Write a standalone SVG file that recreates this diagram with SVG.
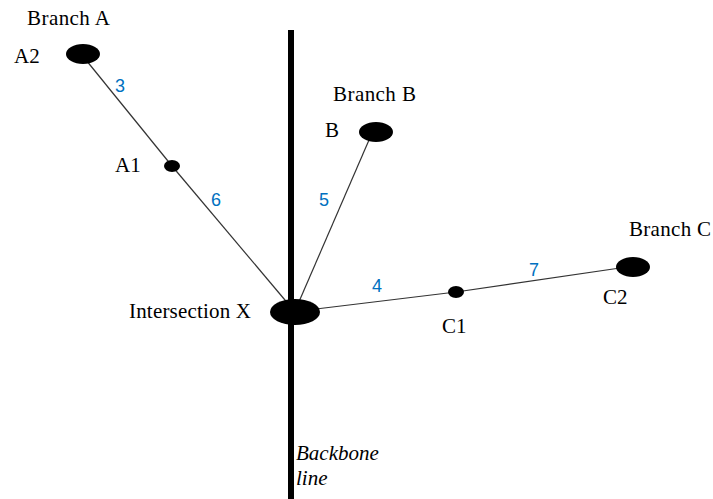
<svg xmlns="http://www.w3.org/2000/svg" width="713" height="499" viewBox="0 0 713 499">
<style>
.lbl{font-family:"Liberation Serif","Times New Roman",serif;font-size:21px;fill:#000}
.num{font-family:"Liberation Sans",Arial,sans-serif;font-size:18px;fill:#0070C0}
.edge{stroke:#333;stroke-width:1.2;fill:none}
.node{fill:#000}
</style>
<rect width="713" height="499" fill="#fff"/>
<g id="backbone">
<line x1="291" y1="30" x2="291" y2="499" stroke="#000" stroke-width="6"/>
<text class="lbl" x="296" y="460" font-style="italic">Backbone</text>
<text class="lbl" x="296" y="485" font-style="italic">line</text>
</g>
<g id="connectors">
<line class="edge" x1="86" y1="60" x2="172" y2="166"/>
<line class="edge" x1="172" y1="166" x2="290" y2="306"/>
<line class="edge" x1="369" y1="140" x2="298" y2="304"/>
<line class="edge" x1="316" y1="309" x2="456" y2="292"/>
<line class="edge" x1="456" y1="292" x2="620" y2="268"/>
<text class="num" x="115" y="92">3</text>
<text class="num" x="211" y="206">6</text>
<text class="num" x="319" y="206">5</text>
<text class="num" x="372" y="292">4</text>
<text class="num" x="529" y="276">7</text>
</g>
<g id="nodeA2">
<ellipse class="node" cx="83" cy="54" rx="17" ry="10"/>
<text class="lbl" x="14" y="63">A2</text>
<text class="lbl" x="27" y="25" textLength="83">Branch A</text>
</g>
<g id="nodeA1">
<ellipse class="node" cx="172" cy="166" rx="8" ry="6"/>
<text class="lbl" x="115" y="172">A1</text>
</g>
<g id="nodeB">
<ellipse class="node" cx="376" cy="132" rx="17" ry="10"/>
<text class="lbl" x="325" y="137">B</text>
<text class="lbl" x="333" y="101" textLength="83">Branch B</text>
</g>
<g id="nodeX">
<ellipse class="node" cx="295" cy="312" rx="25" ry="13"/>
<text class="lbl" x="129" y="318" textLength="122">Intersection X</text>
</g>
<g id="nodeC1">
<ellipse class="node" cx="456" cy="292" rx="8" ry="6"/>
<text class="lbl" x="442" y="333">C1</text>
</g>
<g id="nodeC2">
<ellipse class="node" cx="633" cy="267" rx="17" ry="10"/>
<text class="lbl" x="603" y="304">C2</text>
<text class="lbl" x="629" y="236" textLength="82">Branch C</text>
</g>
</svg>
